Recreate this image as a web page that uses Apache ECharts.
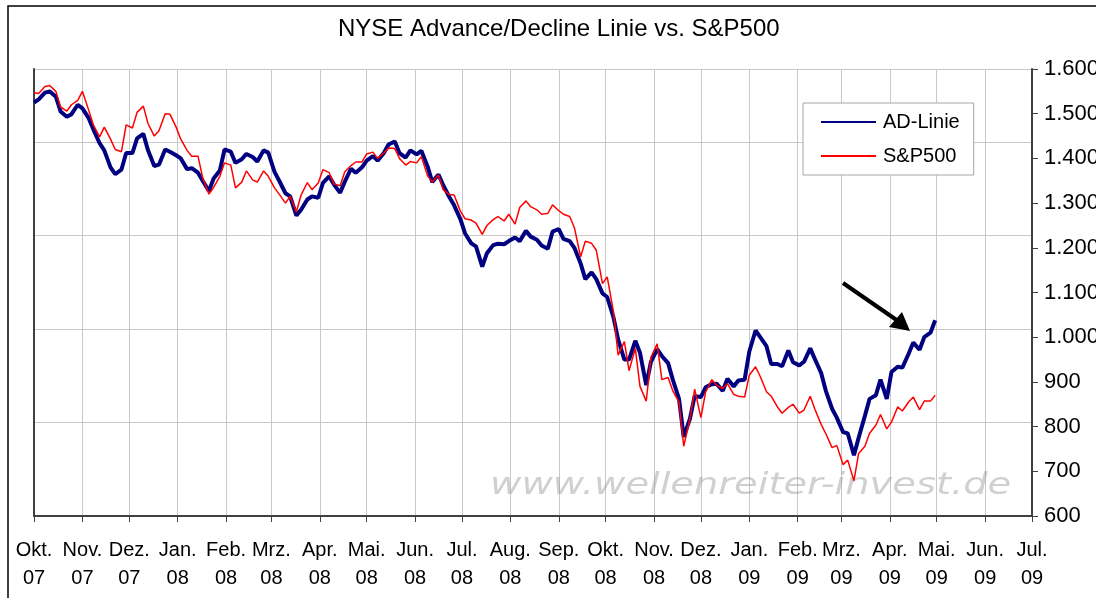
<!DOCTYPE html>
<html>
<head>
<meta charset="utf-8">
<title>NYSE Advance/Decline Linie vs. S&amp;P500</title>
<script src="https://cdn.jsdelivr.net/npm/echarts@6/dist/echarts.min.js"></script>
<style>
  html, body { margin: 0; padding: 0; background: #fff; }
  #main { width: 1096px; height: 598px; }
</style>
</head>
<body>
<div id="main"></div>
<script>
// Mo/Do-Stuetzstellen, Okt. 2007 - Apr. 2009
var dates = [
  '2007-10-01','2007-10-04','2007-10-08','2007-10-11','2007-10-15','2007-10-18','2007-10-22','2007-10-25',
  '2007-10-29','2007-11-01','2007-11-05','2007-11-08','2007-11-12','2007-11-15','2007-11-19','2007-11-22',
  '2007-11-26','2007-11-29','2007-12-03','2007-12-06','2007-12-10','2007-12-13','2007-12-17','2007-12-20',
  '2007-12-24','2007-12-27','2007-12-31','2008-01-03','2008-01-07','2008-01-10','2008-01-14','2008-01-17',
  '2008-01-21','2008-01-24','2008-01-28','2008-01-31','2008-02-04','2008-02-07','2008-02-11','2008-02-14',
  '2008-02-18','2008-02-21','2008-02-25','2008-02-28','2008-03-03','2008-03-06','2008-03-10','2008-03-13',
  '2008-03-17','2008-03-20','2008-03-24','2008-03-27','2008-03-31','2008-04-03','2008-04-07','2008-04-10',
  '2008-04-14','2008-04-17','2008-04-21','2008-04-24','2008-04-28','2008-05-01','2008-05-05','2008-05-08',
  '2008-05-12','2008-05-15','2008-05-19','2008-05-22','2008-05-26','2008-05-29','2008-06-02','2008-06-05',
  '2008-06-09','2008-06-12','2008-06-16','2008-06-19','2008-06-23','2008-06-26','2008-06-30','2008-07-03',
  '2008-07-07','2008-07-10','2008-07-14','2008-07-17','2008-07-21','2008-07-24','2008-07-28','2008-07-31',
  '2008-08-04','2008-08-07','2008-08-11','2008-08-14','2008-08-18','2008-08-21','2008-08-25','2008-08-28',
  '2008-09-01','2008-09-04','2008-09-08','2008-09-11','2008-09-15','2008-09-18','2008-09-22','2008-09-25',
  '2008-09-29','2008-10-02','2008-10-06','2008-10-09','2008-10-13','2008-10-16','2008-10-20','2008-10-23',
  '2008-10-27','2008-10-30','2008-11-03','2008-11-06','2008-11-10','2008-11-13','2008-11-17','2008-11-20',
  '2008-11-24','2008-11-27','2008-12-01','2008-12-04','2008-12-08','2008-12-11','2008-12-15','2008-12-18',
  '2008-12-22','2008-12-25','2008-12-29','2009-01-01','2009-01-05','2009-01-08','2009-01-12','2009-01-15',
  '2009-01-19','2009-01-22','2009-01-26','2009-01-29','2009-02-02','2009-02-05','2009-02-09','2009-02-12',
  '2009-02-16','2009-02-19','2009-02-23','2009-02-26','2009-03-02','2009-03-05','2009-03-09','2009-03-12',
  '2009-03-16','2009-03-19','2009-03-23','2009-03-26','2009-03-30','2009-04-02','2009-04-06','2009-04-09',
  '2009-04-13','2009-04-16','2009-04-20','2009-04-23','2009-04-27','2009-04-30'
];

var adLinie = [
  1525,1532, 1547,1550, 1538,1505, 1493,1499, 1520,1512, 1490,1465, 1434,1418, 1380,1365,
  1375,1412, 1412,1445, 1455,1418, 1383,1386, 1420,1415, 1407,1400, 1376,1378, 1368,1350,
  1327,1355, 1373,1420, 1415,1390, 1398,1410, 1403,1393, 1418,1413, 1370,1350, 1322,1315,
  1272,1285, 1308,1315, 1312,1345, 1360,1342, 1323,1348, 1377,1368, 1380,1395, 1405,1395,
  1412,1431, 1438,1412, 1402,1418, 1409,1417, 1382,1347, 1364,1340, 1313,1295, 1264,1232,
  1210,1203, 1158,1188, 1206,1209, 1208,1215, 1223,1215, 1238,1225, 1218,1205, 1198,1236,
  1242,1220, 1215,1200, 1165,1130, 1145,1130, 1098,1090, 1045,995, 950,950, 992,965,
  893,945, 973,958, 942,905, 862,777, 818,868, 866,888, 895,896, 880,907,
  890,903, 905,968, 1015,1000, 980,940, 940,935, 970,944, 937,945, 975,951,
  920,880, 840,820, 788,785, 736,775, 824,862, 870,905, 862,922, 934,932,
  963,988, 972,1000, 1010,1038
];

var sp500 = [
  1547,1545, 1561,1563, 1550,1515, 1506,1520, 1530,1550, 1508,1475, 1448,1470, 1443,1420,
  1415,1475, 1468,1503, 1517,1478, 1450,1462, 1500,1499, 1470,1443, 1418,1405, 1405,1357,
  1320,1335, 1360,1390, 1385,1334, 1347,1372, 1352,1347, 1372,1360, 1334,1320, 1300,1315,
  1280,1318, 1346,1330, 1345,1375, 1368,1343, 1339,1370, 1384,1392, 1392,1410, 1414,1400,
  1412,1423, 1422,1400, 1385,1393, 1390,1404, 1361,1347, 1363,1330, 1319,1318, 1282,1265,
  1262,1255, 1230,1250, 1263,1270, 1260,1275, 1253,1290, 1305,1292, 1285,1275, 1277,1296,
  1283,1275, 1270,1245, 1180,1215, 1210,1195, 1120,1135, 1058,960, 990,925, 975,890,
  857,955, 985,905, 910,880, 855,756, 817,884, 820,877, 905,893, 885,896,
  872,868, 866,915, 934,912, 878,868, 844,830, 843,850, 830,837, 868,839,
  805,784, 753,758, 715,725, 679,740, 756,785, 803,827, 795,810, 844,835,
  855,866, 838,857, 857,870
];

var monate = ['Jan.','Feb.','Mrz.','Apr.','Mai.','Jun.','Jul.','Aug.','Sep.','Okt.','Nov.','Dez.'];

var FONT = '"Liberation Sans", Arial, sans-serif';

var chart = echarts.init(document.getElementById('main'));

function fmtPunkt(v) {
  if (v >= 1000) {
    return Math.floor(v / 1000) + '.' + String(v % 1000).padStart(3, '0');
  }
  return String(v);
}

chart.setOption({
  backgroundColor: '#fff',
  animation: false,
  title: {
    text: 'NYSE Advance/Decline Linie vs. S&P500',
    left: 333,
    top: 12,
    textStyle: { fontFamily: FONT, fontSize: 24, fontWeight: 'normal', color: '#000' }
  },
  legend: {
    orient: 'vertical',
    left: 803,
    top: 103,
    padding: [9, 14, 9, 17],
    itemGap: 14,
    itemWidth: 55,
    itemHeight: 14,
    backgroundColor: '#fff',
    borderColor: '#a6a6a6',
    borderWidth: 1,
    borderRadius: 0,
    itemStyle: { opacity: 0 },
    textStyle: { fontFamily: FONT, fontSize: 20, color: '#000', padding: [0, 0, 0, 2] },
    data: ['AD-Linie', 'S&P500']
  },
  grid: { left: 34, right: 64, top: 69, bottom: 82, containLabel: false, outerBoundsMode: 'none' },
  xAxis: {
    type: 'time',
    min: '2007-10-01',
    max: '2009-07-01',
    splitNumber: 21,
    minInterval: 28 * 86400000,
    maxInterval: 31 * 86400000,
    axisLine: { lineStyle: { color: '#404040', width: 2 } },
    axisTick: { show: true, length: 6, lineStyle: { color: '#404040', width: 1 } },
    splitLine: { show: true, lineStyle: { color: '#c8c8c8', width: 1 } },
    axisLabel: {
      interval: 0,
      hideOverlap: false,
      margin: 20,
      fontFamily: FONT,
      fontSize: 20,
      lineHeight: 28,
      color: '#000',
      formatter: function (val) {
        var d = new Date(val);
        return monate[d.getMonth()] + '\n' + String(d.getFullYear()).slice(2);
      }
    }
  },
  yAxis: [
    {
      // Primaerachse nur fuer die Gitterlinien
      type: 'value',
      position: 'left',
      min: 0,
      max: 4.78,
      interval: 1,
      axisLabel: { show: false },
      axisTick: { show: false },
      axisLine: { show: true, lineStyle: { color: '#404040', width: 2 } },
      splitLine: { show: true, lineStyle: { color: '#c8c8c8', width: 1 } }
    },
    {
      type: 'value',
      position: 'right',
      min: 600,
      max: 1600,
      interval: 100,
      axisLine: { show: true, lineStyle: { color: '#404040', width: 2 } },
      axisTick: { show: true, inside: false, length: 6, lineStyle: { color: '#404040', width: 1 } },
      splitLine: { show: false },
      axisLabel: {
        margin: 12,
        fontFamily: FONT,
        fontSize: 22,
        color: '#000',
        formatter: fmtPunkt
      }
    }
  ],
  series: [
    {
      name: 'AD-Linie',
      type: 'line',
      yAxisIndex: 1,
      symbol: 'none',
      data: dates.map(function (d, i) { return [d, adLinie[i]]; }),
      lineStyle: { color: '#000080', width: 4 },
      itemStyle: { color: '#000080' }
    },
    {
      name: 'S&P500',
      type: 'line',
      yAxisIndex: 1,
      symbol: 'none',
      data: dates.map(function (d, i) { return [d, sp500[i]]; }),
      lineStyle: { color: '#ff0000', width: 1.5 },
      itemStyle: { color: '#ff0000' }
    }
  ],
  graphic: [
    {
      type: 'rect',
      shape: { x: 8, y: 6, width: 1100, height: 620 },
      style: { fill: null, stroke: '#000', lineWidth: 1.5 },
      silent: true,
      z: -1
    },
    {
      type: 'rect',
      shape: { x: 34, y: 69, width: 998, height: 1 },
      style: { fill: '#909090' },
      silent: true
    },
    {
      type: 'text',
      x: 490,
      y: 486,
      scaleX: 1.28,
      style: {
        text: 'www.wellenreiter-invest.de',
        font: 'oblique 30px "DejaVu Sans", Verdana, sans-serif',
        fill: 'rgba(150,150,150,0.45)',
        verticalAlign: 'middle',
        align: 'left',
        shadowBlur: 2,
        shadowColor: 'rgba(150,150,150,0.4)'
      },
      silent: true,
      z: 1
    },
    {
      type: 'line',
      shape: { x1: 843, y1: 283, x2: 898, y2: 321 },
      style: { stroke: '#000', lineWidth: 4 },
      silent: true,
      z: 10
    },
    {
      type: 'polygon',
      shape: { points: [[910, 331], [889, 327], [902, 312]] },
      style: { fill: '#000' },
      silent: true,
      z: 10
    }
  ]
});
</script>
</body>
</html>
